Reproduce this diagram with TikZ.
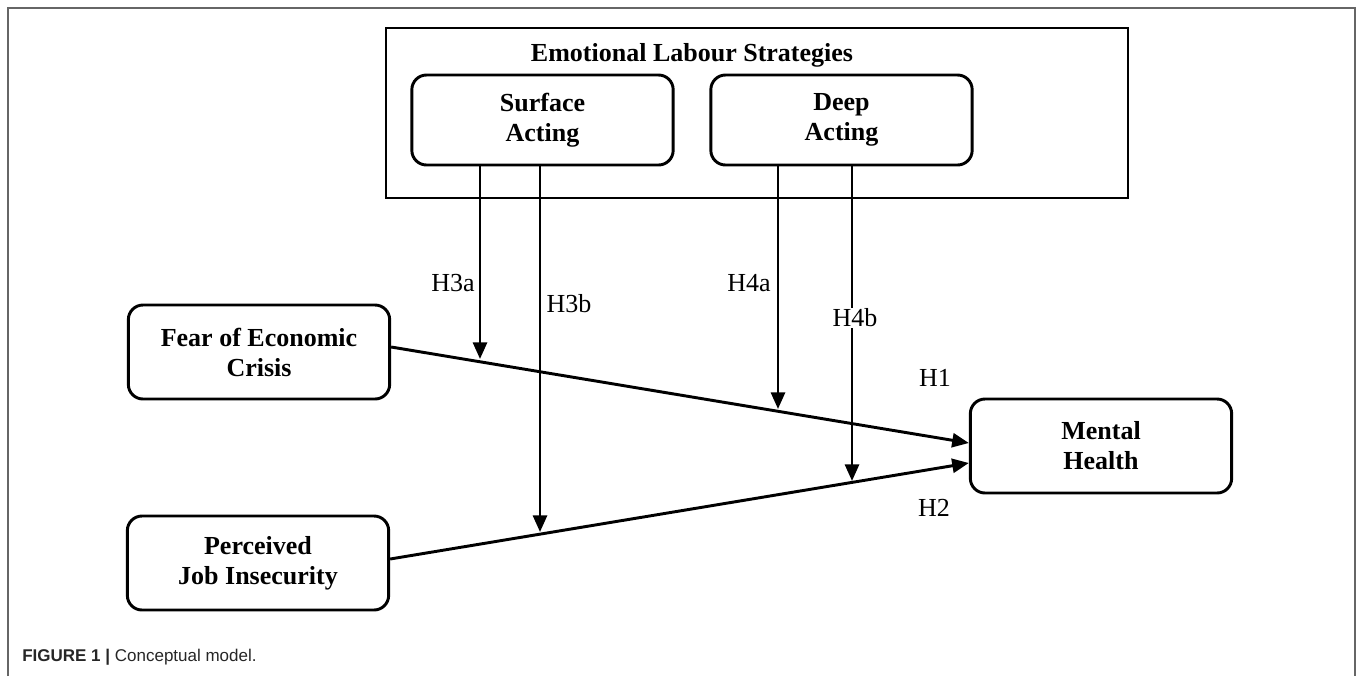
\documentclass[tikz,border=0pt]{standalone}
\usepackage{fontspec}
\setmainfont{Liberation Serif}
\newfontfamily\capfont{Liberation Sans}
\usetikzlibrary{arrows.meta,calc}
\begin{document}
\begin{tikzpicture}[x=0.75pt,y=-0.75pt,
  boxtext/.style={font=\fontsize{19.5}{22.5}\selectfont\bfseries, align=center},
  rbox/.style={boxtext, draw, line width=2.2pt, rounded corners=11pt, inner sep=0pt,
    minimum width=196pt, minimum height=70.5pt},
  conn/.style={line width=2.2pt, -{Triangle[length=12.5pt,width=10.5pt]}},
  hlab/.style={font=\fontsize{19.5}{22}\selectfont, fill=white, inner sep=1pt},
  frame/.style={draw=black!60, line width=1.6pt}]
\useasboundingbox (0,0) rectangle (1358,676);
% frame
\draw[frame] (8,676) -- (8,8) -- (1355,8) -- (1355,676);
% outer box
\node[draw, line width=2.2pt, minimum width=556.5pt, minimum height=127.5pt, inner sep=0pt] (els) at (757,113) {};
\node[boxtext] (elst) at (692,55) {Emotional Labour Strategies};
\node[rbox, minimum height=67.5pt] (sa) at (542.5,120) {Surface\\Acting};
\node[rbox, minimum height=67.5pt] (da) at (841.5,120) {Deep\\Acting};
\node[rbox] (fe) at (259,352) {Fear of Economic\\Crisis};
\node[rbox] (pj) at (258,563) {Perceived\\Job Insecurity};
\node[rbox] (mh) at (1101,446) {Mental\\Health};
% main paths
\coordinate (feo) at ($(fe.east)+(0,-5)$);
\coordinate (pjo) at ($(pj.east)+(0,-4)$);
\coordinate (mh1) at ($(mh.west)+(0,-3)$);
\coordinate (mh2) at ($(mh.west)+(0,17)$);
\draw[conn] (feo) -- (mh1);
\draw[conn] (pjo) -- (mh2);
% moderation arrows
\coordinate (t1) at (480,359);
\coordinate (t2) at (540,532);
\coordinate (t3) at (778,409);
\coordinate (t4) at (852,481);
\draw[conn] (sa.south -| t1) -- (t1);
\draw[conn] (sa.south -| t2) -- (t2);
\draw[conn] (da.south -| t3) -- (t3);
\draw[conn] (da.south -| t4) -- (t4);
% labels
\node[hlab] (h3a) at (453,283) {H3a};
\node[hlab] (h3b) at (569,304) {H3b};
\node[hlab] (h4a) at (749,283) {H4a};
\node[hlab] (h4b) at (855,318) {H4b};
\node[hlab] (h1) at (935,378) {H1};
\node[hlab] (h2) at (934,508) {H2};
% caption
\node[anchor=west, inner sep=0pt, font=\capfont\fontsize{12.75}{15}\selectfont, text=black!85] (cap) at (22,657)
  {\textbf{FIGURE 1 |} Conceptual model.};
\end{tikzpicture}
\end{document}
